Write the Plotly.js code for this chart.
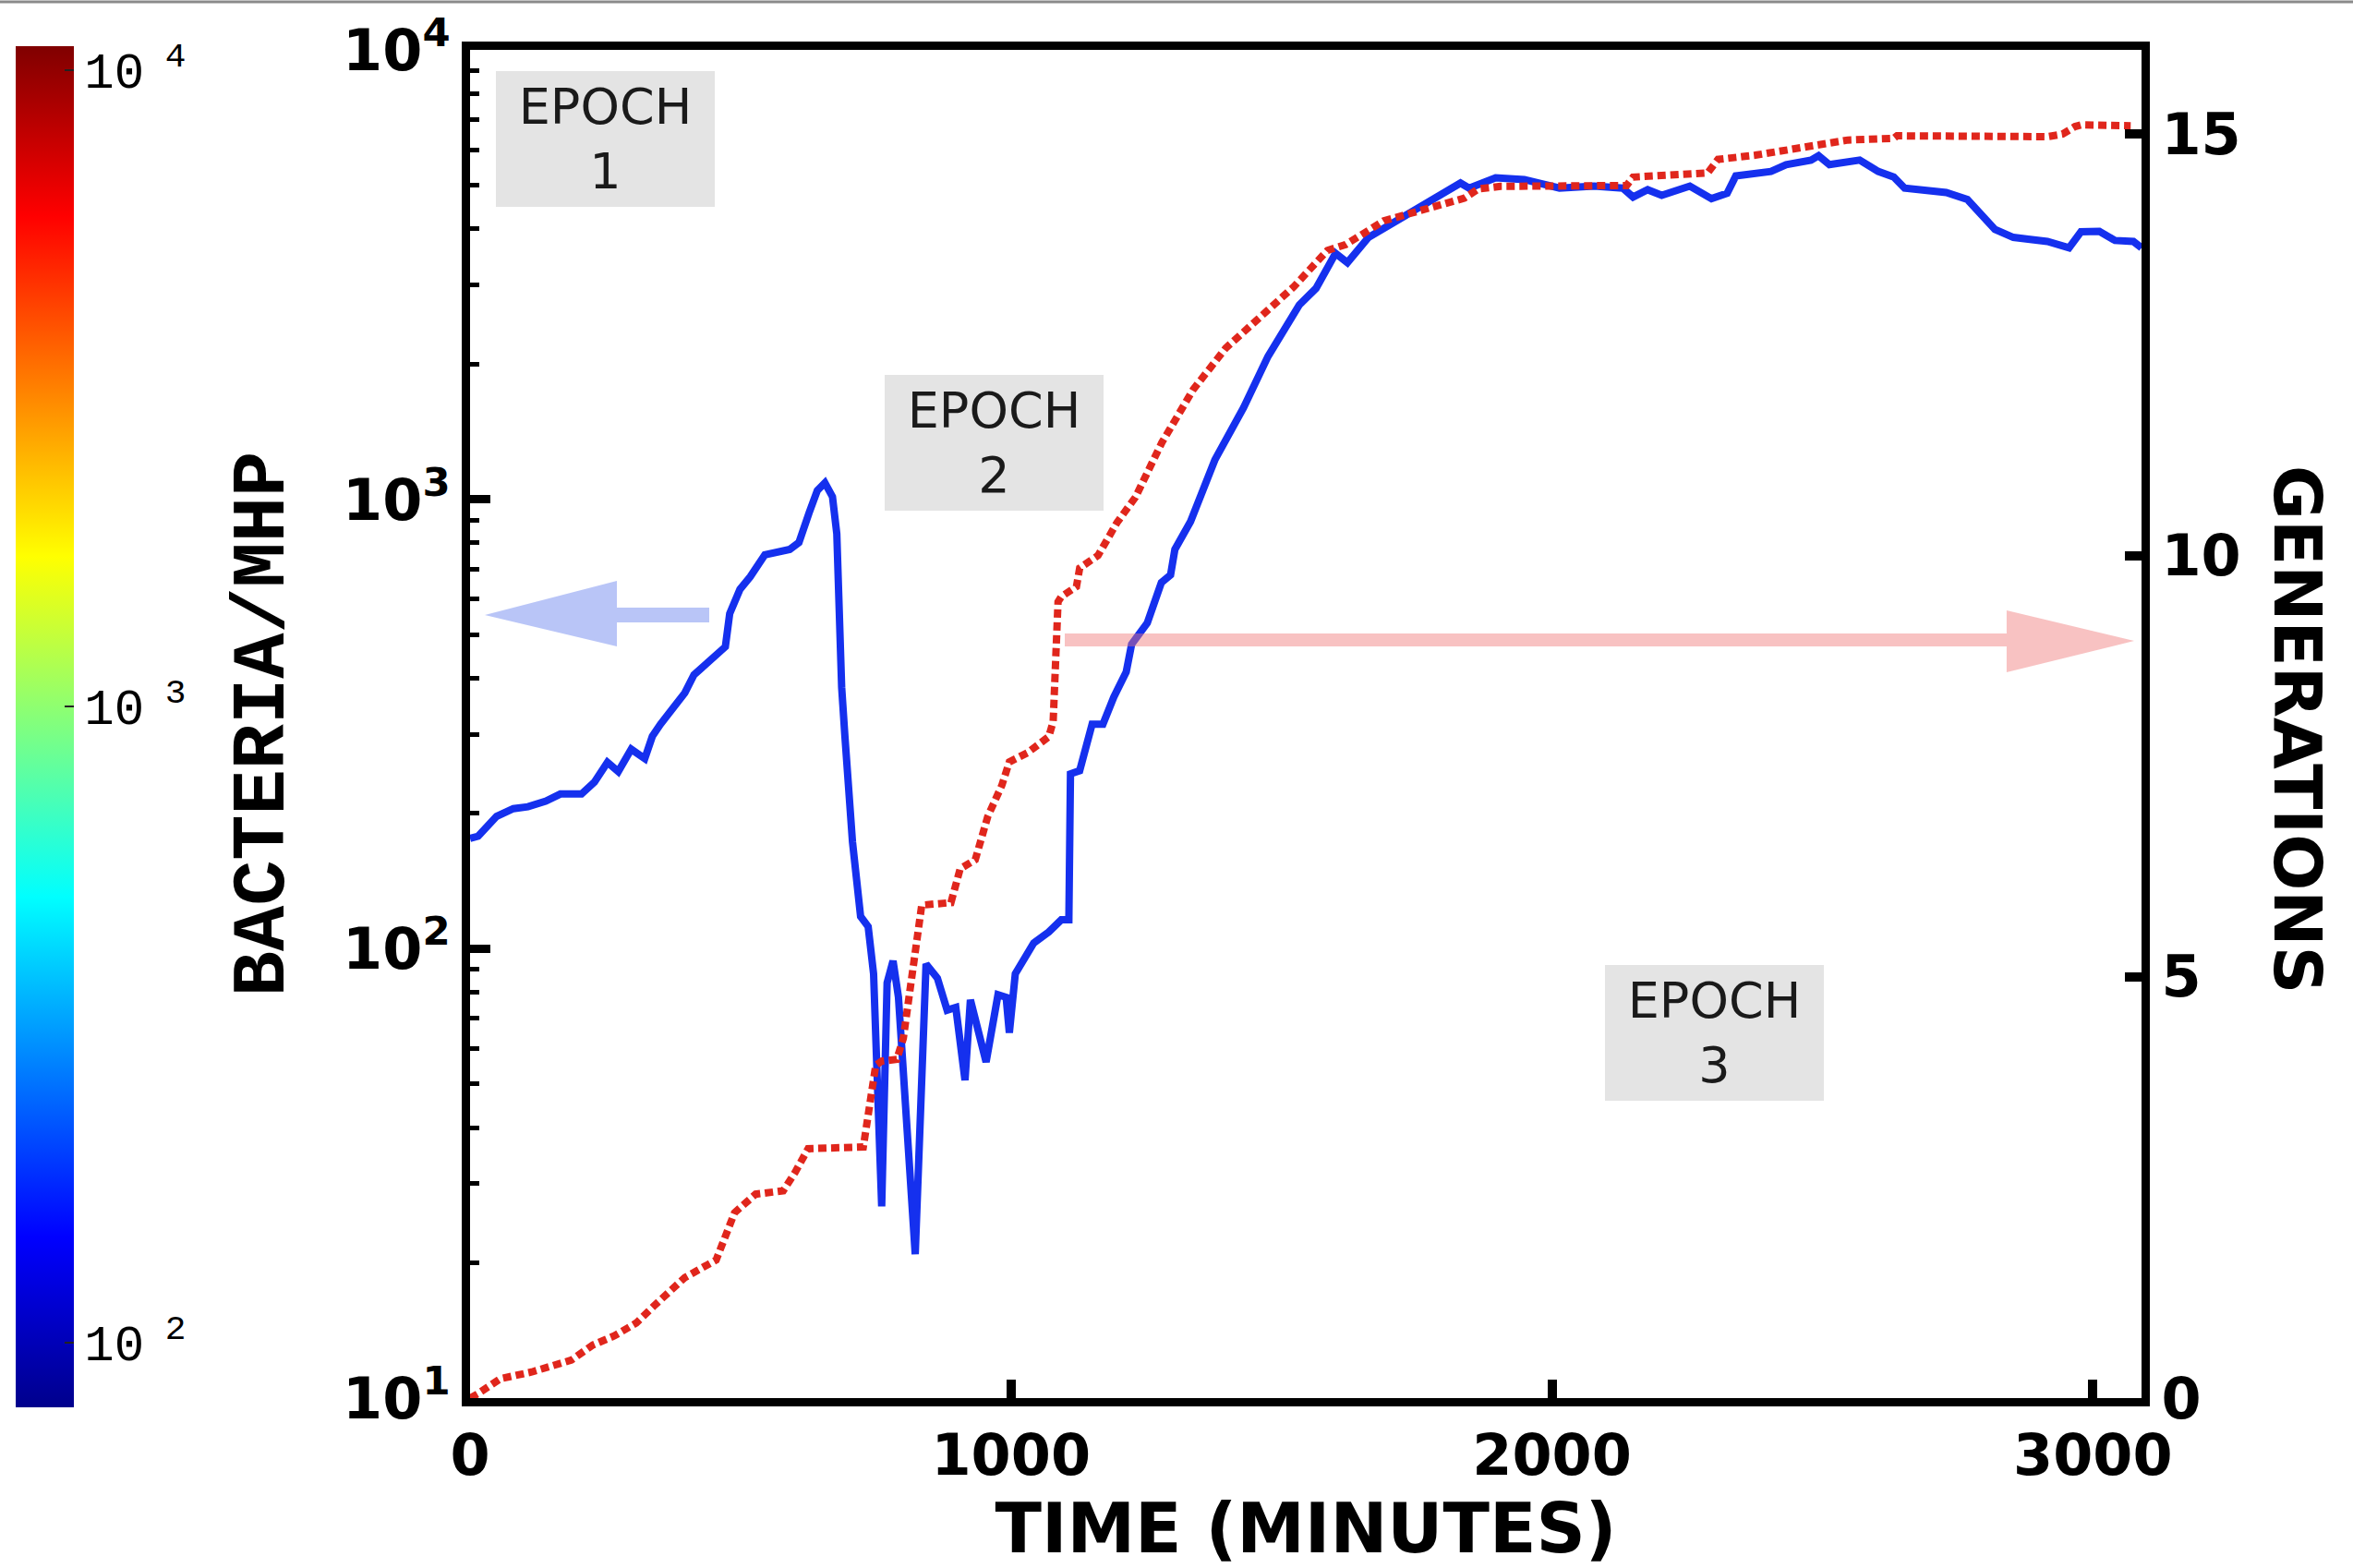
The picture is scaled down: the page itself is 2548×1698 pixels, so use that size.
<!DOCTYPE html>
<html>
<head>
<meta charset="utf-8">
<script src="https://cdn.plot.ly/plotly-3.0.1.min.js"></script>
<style>
  html, body { margin: 0; padding: 0; background: #ffffff; }
  #chart { width: 2548px; height: 1698px; }
</style>
</head>
<body>
<div id="chart"></div>
<script>
// ---- Data ----
// Bacteria per MHP (left, log axis) versus time in minutes
const timeBacteria = [0, 15, 49, 80, 107, 140, 167, 206, 230, 254, 274, 298, 323, 337, 352, 375, 397, 414, 448, 472,
  480, 499, 518, 545, 591, 608, 627, 642, 656, 670, 678, 681, 687, 693, 707, 722, 736, 746, 761, 771,
  782, 792, 823, 843, 864, 882, 898, 915, 925, 954, 976, 991, 997, 1008, 1025, 1042, 1070, 1093, 1107, 1110,
  1127, 1150, 1170, 1190, 1213, 1223, 1252, 1278, 1295, 1303, 1332, 1377, 1430, 1475, 1533, 1564, 1600, 1622, 1661, 1700,
  1753, 1792, 1831, 1847, 1896, 1949, 2014, 2078, 2131, 2150, 2177, 2203, 2255, 2295, 2324, 2340, 2405, 2433, 2479, 2493,
  2513, 2569, 2603, 2632, 2652, 2729, 2768, 2819, 2853, 2916, 2944, 2956, 2978, 3012, 3041, 3075, 3090];
const bacteria = [176, 178, 197, 205, 207, 213, 221, 221, 235, 260, 248, 278, 265, 297, 316, 342, 371, 407, 440, 470,
  557, 631, 673, 753, 774, 802, 935, 1047, 1089, 1014, 839, 612, 382, 297, 173, 118, 112, 88, 26.7, 84,
  94, 78, 20.9, 92.5, 86, 73, 74, 51, 77, 56, 79, 78, 65, 88, 95, 103, 109, 116, 116, 245,
  249, 316, 316, 363, 413, 476, 531, 653, 679, 774, 893, 1225, 1600, 2080, 2710, 2950, 3530, 3365, 3830, 4080,
  4470, 4710, 5060, 4930, 5200, 5150, 4930, 4980, 4930, 4710, 4890, 4750, 4980, 4670, 4800, 5250, 5370, 5560, 5690, 5820,
  5560, 5690, 5370, 5220, 4930, 4820, 4650, 3990, 3830, 3750, 3680, 3630, 3940, 3950, 3770, 3750, 3630];

// Generations (right axis) versus time in minutes
const timeGen = [0, 14, 56, 114, 187, 227, 267, 307, 341, 397, 455, 489, 528, 579, 601, 625, 727, 738, 750, 761,
  789, 801, 818, 835, 889, 906, 934, 957, 983, 997, 1031, 1070, 1078, 1087, 1093, 1121, 1127, 1161, 1196, 1230,
  1279, 1337, 1397, 1455, 1523, 1585, 1619, 1689, 1786, 1838, 1864, 1905, 2138, 2150, 2288, 2307, 2376, 2433, 2491, 2547,
  2632, 2638, 2916, 2944, 2967, 2978, 3070];
const generations = [0.0, 0.05, 0.23, 0.31, 0.45, 0.63, 0.74, 0.89, 1.1, 1.43, 1.64, 2.2, 2.42, 2.46, 2.68, 2.96, 2.98, 3.51, 3.95, 4.0,
  4.02, 4.27, 5.11, 5.85, 5.88, 6.28, 6.39, 6.9, 7.27, 7.55, 7.66, 7.85, 8.03, 9.45, 9.51, 9.63, 9.85, 10.0, 10.39, 10.69,
  11.34, 11.97, 12.46, 12.8, 13.19, 13.62, 13.69, 13.97, 14.16, 14.24, 14.35, 14.38, 14.39, 14.49, 14.54, 14.7, 14.75, 14.81, 14.87, 14.93,
  14.95, 14.98, 14.97, 15.0, 15.09, 15.11, 15.1];

// Colour bar (log10 values) and its tick labels
const colorbarRange = [1.898, 4.038];
const colorbarTicks = [2, 3, 4];
const colorbarTickText = ['10<sup> 2</sup>', '10<sup> 3</sup>', '10<sup> 4</sup>'];

// Axis ticks
const timeTicks = [0, 1000, 2000, 3000];
const bacteriaTicks = [10, 100, 1000, 10000];
const bacteriaTickText = ['10<sup>1</sup>', '10<sup>2</sup>', '10<sup>3</sup>', '10<sup>4</sup>'];
const genTicks = [0, 5, 10, 15];
const epochLabels = ['EPOCH<br>1', 'EPOCH<br>2', 'EPOCH<br>3'];

// ---- Styling ----
const jet = [[0, 'rgb(0,0,140)'], [0.125, 'rgb(0,0,255)'], [0.375, 'rgb(0,255,255)'],
             [0.625, 'rgb(255,255,0)'], [0.875, 'rgb(255,0,0)'], [1, 'rgb(128,0,0)']];
const tickFont = {family: 'DejaVu Sans', size: 62, color: '#000', weight: 'bold'};

const traces = [
  {
    type: 'scatter', mode: 'markers', x: [null, null], y: [null, null],
    xaxis: 'x', yaxis: 'y2', hoverinfo: 'skip', showlegend: false,
    marker: {
      color: colorbarRange, colorscale: jet, cmin: colorbarRange[0], cmax: colorbarRange[1],
      showscale: true,
      colorbar: {
        x: -0.2718, xanchor: 'left', y: 0.4979, yanchor: 'middle',
        len: 1474, lenmode: 'pixels', thickness: 63, thicknessmode: 'pixels',
        xpad: 0, ypad: 0, outlinewidth: 0,
        tickmode: 'array', tickvals: colorbarTicks, ticktext: colorbarTickText,
        ticks: 'inside', ticklen: 10, tickwidth: 2, tickcolor: '#222',
        tickfont: {family: 'Liberation Mono', size: 54, color: '#000'}
      }
    }
  },
  {
    type: 'scatter', mode: 'lines', name: 'BACTERIA/MHP',
    x: timeBacteria, y: bacteria, xaxis: 'x', yaxis: 'y',
    line: {color: '#1530ee', width: 8}, showlegend: false
  },
  {
    type: 'scatter', mode: 'lines', name: 'GENERATIONS',
    x: timeGen, y: generations, xaxis: 'x', yaxis: 'y2',
    line: {color: '#e0261c', width: 8, dash: '9px,5px'}, showlegend: false
  }
];

function epochBox(text, x, y) {
  return {
    xref: 'paper', yref: 'paper', x: x, y: y, xanchor: 'center', yanchor: 'middle',
    text: text, showarrow: false, bgcolor: '#e4e4e4', width: 237, height: 147,
    borderpad: 0, borderwidth: 0, align: 'center', valign: 'middle',
    font: {family: 'DejaVu Sans', size: 54, color: '#1a1a1a'}
  };
}

const layout = {
  width: 2548, height: 1698,
  margin: {l: 509, r: 229, t: 54, b: 184, pad: 0},
  paper_bgcolor: '#ffffff', plot_bgcolor: '#ffffff',
  showlegend: false,
  xaxis: {
    range: [0, 3090], tickmode: 'array', tickvals: timeTicks,
    ticks: 'inside', ticklen: 20, tickwidth: 10, tickcolor: '#000',
    showline: true, linewidth: 9, linecolor: '#000', mirror: true,
    showgrid: false, zeroline: false, tickfont: tickFont,
    title: {text: 'TIME (MINUTES)', font: {family: 'DejaVu Sans', size: 74, color: '#000', weight: 'bold'}, standoff: 6}
  },
  yaxis: {
    type: 'log', range: [1, 4.0005],
    tickmode: 'array', tickvals: bacteriaTicks, ticktext: bacteriaTickText,
    ticks: 'inside', ticklen: 22, tickwidth: 9, tickcolor: '#000',
    minor: {ticks: 'inside', ticklen: 10, tickwidth: 5, tickcolor: '#000', dtick: 'D1', showgrid: false},
    showline: true, linewidth: 9, linecolor: '#000',
    showgrid: false, zeroline: false, tickfont: tickFont,
    title: {text: 'BACTERIA/MHP', font: {family: 'Liberation Mono', size: 82, color: '#000', weight: 'bold'}, standoff: 40}
  },
  yaxis2: {
    overlaying: 'y', side: 'right', range: [0, 16],
    tickmode: 'array', tickvals: genTicks,
    ticks: 'inside', ticklen: 18, tickwidth: 10, tickcolor: '#000',
    showline: true, linewidth: 9, linecolor: '#000',
    showgrid: false, zeroline: false, tickfont: tickFont
  },
  annotations: [
    epochBox(epochLabels[0], 0.0809, 0.9342),
    epochBox(epochLabels[1], 0.3138, 0.7086),
    epochBox(epochLabels[2], 0.7445, 0.2712),
    {
      xref: 'paper', yref: 'paper', x: 1.0934, y: 0.4959, xanchor: 'center', yanchor: 'middle',
      text: 'GENERATIONS', textangle: 90, showarrow: false,
      font: {family: 'DejaVu Sans', size: 72, color: '#000', weight: 'bold'}
    }
  ],
  shapes: [
    {
      type: 'path', xref: 'paper', yref: 'paper', layer: 'above',
      path: 'M 0.1431,0.5863 L 0.08785,0.5863 L 0.08785,0.6062 L 0.00884,0.5808 L 0.08785,0.5575 L 0.08785,0.5753 L 0.1431,0.5753 Z',
      fillcolor: 'rgb(80,110,235)', opacity: 0.4, line: {width: 0}
    },
    {
      type: 'path', xref: 'paper', yref: 'paper', layer: 'above',
      path: 'M 0.3558,0.5671 L 0.9193,0.5671 L 0.9193,0.5842 L 0.9956,0.5616 L 0.9193,0.5384 L 0.9193,0.5575 L 0.3558,0.5575 Z',
      fillcolor: 'rgb(240,120,120)', opacity: 0.45, line: {width: 0}
    },
    {
      type: 'line', xref: 'paper', yref: 'paper', x0: -0.3, x1: 1.3, y0: 1.0356, y1: 1.0356,
      line: {color: '#8a8a8a', width: 3}
    }
  ]
};

Plotly.newPlot('chart', traces, layout, {displayModeBar: false, staticPlot: true});
</script>
</body>
</html>
